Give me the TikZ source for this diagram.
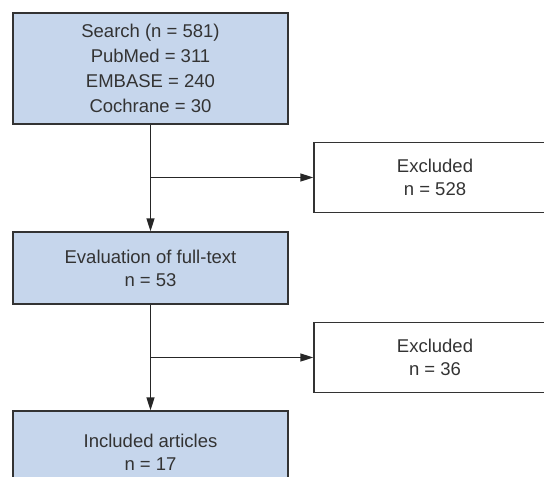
\documentclass[tikz,border=0pt]{standalone}
\usepackage{fontspec}
\setmainfont{Liberation Sans}
\usetikzlibrary{arrows.meta}
\definecolor{boxblue}{HTML}{C6D6EC}
\definecolor{ink}{HTML}{333333}
\begin{document}
\begin{tikzpicture}[x=1pt,y=-1pt,
  box/.style={draw=ink,line width=1.4pt,minimum width=275pt,align=center,text=ink,inner sep=0pt,
    font=\fontsize{18.5}{23}\selectfont},
  bluebox/.style={box,fill=boxblue},
  whitebox/.style={box,fill=white,minimum width=242pt,minimum height=70pt},
  conn/.style={draw=black!85,line width=1.4pt},
  arr/.style={conn,-{Triangle[length=13pt,width=8pt]}}]
\useasboundingbox (0,0) rectangle (544,477);
\clip (0,0) rectangle (544,477);
\fill[white] (0,0) rectangle (544,477);
\node[bluebox,minimum height=111pt,font=\fontsize{18.5}{25}\selectfont] (search) at (150.5,68.5)
  {Search (n = 581)\\PubMed = 311\\EMBASE = 240\\Cochrane = 30};
\node[whitebox] (excl1) at (435,177.5) {Excluded\\n = 528};
\node[bluebox,minimum height=72pt] (eval) at (150.5,268) {Evaluation of full-text\\n = 53};
\node[whitebox] (excl2) at (435,357.5) {Excluded\\n = 36};
\node[bluebox,minimum height=82pt] (incl) at (150.5,452) {Included articles\\n = 17};
\draw[arr] (search.south) -- (eval.north);
\draw[arr] (search.south |- excl1.west) -- (excl1.west);
\draw[arr] (eval.south) -- (incl.north);
\draw[arr] (eval.south |- excl2.west) -- (excl2.west);
\end{tikzpicture}
\end{document}
